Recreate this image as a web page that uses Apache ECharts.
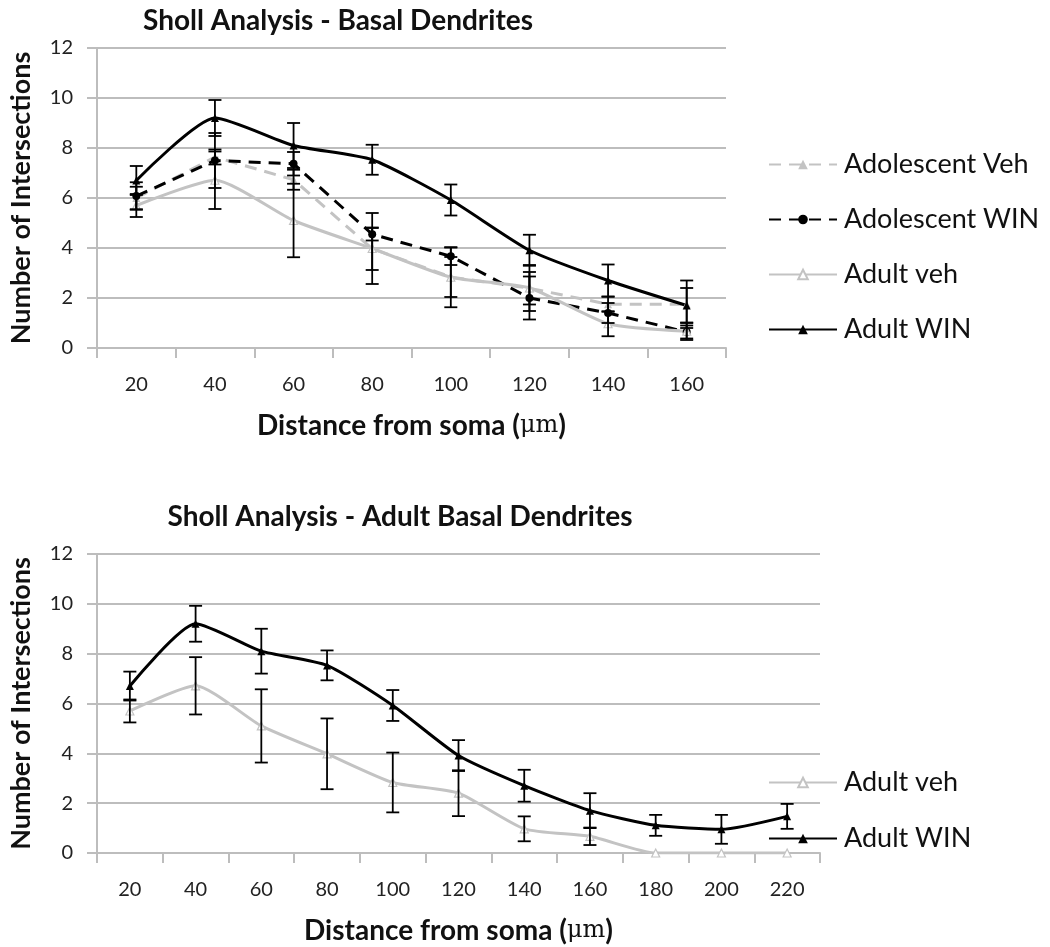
<!DOCTYPE html>
<html>
<head>
<meta charset="utf-8">
<script src="https://cdn.jsdelivr.net/npm/echarts@6/dist/echarts.min.js"></script>
<style>html,body{margin:0;padding:0;background:#fff}#c{width:1050px;height:947px}</style>
</head>
<body>
<div id="c"></div>
<script>
// ---- data ----
const distTop = ['20','40','60','80','100','120','140','160'];
const distBottom = ['20','40','60','80','100','120','140','160','180','200','220'];
const yTicks = [0, 12, 2]; // min, max, interval

const adolVeh    = [6.0, 7.64, 6.73, 3.97, 2.84, 2.39, 1.75, 1.75];
const adolVehErr = [0.45, 0.3, 0.4, 0.85, 0.8, 0.65, 0.3, 0.95];
const adolWin    = [6.08, 7.5, 7.37, 4.55, 3.67, 2.0, 1.4, 0.64];
const adolWinErr = [0.55, 1.1, 0.47, 0.25, 0.35, 0.86, 0.4, 0.26];
const adultVeh    = [5.7, 6.71, 5.1, 3.98, 2.83, 2.4, 0.97, 0.67, 0, 0, 0];
const adultVehErr = [0.46, 1.15, 1.47, 1.42, 1.2, 0.92, 0.5, 0.35, 0, 0, 0];
const adultWin    = [6.7, 9.2, 8.1, 7.53, 5.92, 3.91, 2.7, 1.7, 1.11, 0.95, 1.47];
const adultWinErr = [0.58, 0.72, 0.9, 0.6, 0.62, 0.62, 0.64, 0.7, 0.42, 0.58, 0.5];

const FONT = 'Lato';
const GRID_C = '#bdbdbd';
const LIGHT = '#c3c3c3';

function errData(vals, errs, n) {
  const out = [];
  for (let i = 0; i < n; i++) out.push([i, vals[i] - errs[i], vals[i] + errs[i]]);
  return out;
}
function errSeries(vals, errs, n, gi) {
  return {
    type: 'custom', xAxisIndex: gi, yAxisIndex: gi, z: 10, silent: true,
    encode: { x: 0, y: [1, 2] },
    data: errData(vals, errs, n),
    renderItem: function (params, api) {
      const lo = api.value(1), hi = api.value(2);
      if (hi - lo <= 0) return;
      const p1 = api.coord([api.value(0), lo]);
      const p2 = api.coord([api.value(0), hi]);
      const w = 6.5;
      const st = { stroke: '#000', lineWidth: 1.8, fill: null };
      return { type: 'group', children: [
        { type: 'line', shape: { x1: p1[0], y1: p1[1], x2: p2[0], y2: p2[1] }, style: st },
        { type: 'line', shape: { x1: p1[0]-w, y1: p1[1], x2: p1[0]+w, y2: p1[1] }, style: st },
        { type: 'line', shape: { x1: p2[0]-w, y1: p2[1], x2: p2[0]+w, y2: p2[1] }, style: st }
      ]};
    }
  };
}

const S = {
  adolVeh: { color: LIGHT, type: [12, 8], symbol: 'triangle', size: 8, fill: LIGHT },
  adolWin: { color: '#000', type: [12, 8], symbol: 'circle', size: 8, fill: '#000' },
  adultVeh: { color: LIGHT, type: 'solid', symbol: 'triangle', size: 8, fill: '#fff' },
  adultWin: { color: '#000', type: 'solid', symbol: 'triangle', size: 8, fill: '#000' }
};
function lineSeries(name, vals, n, gi, st) {
  return {
    type: 'line', name: name, xAxisIndex: gi, yAxisIndex: gi, z: 3,
    data: vals.slice(0, n), smooth: st.type === 'solid' ? 0.2 : 0,
    symbol: st.symbol, symbolSize: st.size, showSymbol: true,
    lineStyle: { color: st.color, width: 3, type: st.type },
    itemStyle: { color: st.fill, borderColor: st.color, borderWidth: st.fill === '#fff' ? 1.2 : 0 },
    color: st.color
  };
}

function xAxis(gi, cats, nameTxt) {
  return {
    type: 'category', gridIndex: gi, data: cats, boundaryGap: true,
    axisLine: { lineStyle: { color: GRID_C, width: 2 } },
    axisTick: { show: true, length: 10, lineStyle: { color: GRID_C, width: 2 } },
    axisLabel: { color: '#222', fontFamily: FONT, fontSize: 20, margin: 27 },
    name: nameTxt, nameLocation: 'middle', nameGap: 64,
    nameTextStyle: {
      fontFamily: FONT, fontWeight: 'bold', fontSize: 28, color: '#111',
      rich: { mu: { fontFamily: 'DejaVu Serif', fontWeight: 'normal', fontSize: 24, color: '#111', textStrokeColor: '#111', textStrokeWidth: 0.7 } }
    }
  };
}
function yAxis(gi) {
  return {
    type: 'value', gridIndex: gi, min: yTicks[0], max: yTicks[1], interval: yTicks[2],
    axisLine: { show: true, lineStyle: { color: GRID_C, width: 2 } },
    axisTick: { show: true, length: 10, lineStyle: { color: GRID_C, width: 2 } },
    splitLine: { lineStyle: { color: GRID_C, width: 2 } },
    axisLabel: { color: '#222', fontFamily: FONT, fontSize: 20, margin: 24 },
    name: 'Number of Intersections', nameLocation: 'middle', nameGap: 62, nameRotate: 90,
    nameTextStyle: { fontFamily: FONT, fontWeight: 'bold', fontSize: 27, color: '#111' }
  };
}

const nTop = distTop.length, nBot = distBottom.length;
const xName = 'Distance from soma ({mu|μm})';

const option = {
  animation: false,
  backgroundColor: '#fff',
  title: [
    { text: 'Sholl Analysis - Basal Dendrites', left: 333, top: 2, textAlign: 'center',
      textStyle: { fontFamily: FONT, fontWeight: 'bold', fontSize: 28, color: '#111' } },
    { text: 'Sholl Analysis - Adult Basal Dendrites', left: 395, top: 498, textAlign: 'center',
      textStyle: { fontFamily: FONT, fontWeight: 'bold', fontSize: 28, color: '#111' } }
  ],
  grid: [
    { left: 95, top: 48, width: 631, height: 300 },
    { left: 95, top: 554, width: 725, height: 299 }
  ],
  xAxis: [ xAxis(0, distTop, xName), xAxis(1, distBottom, xName) ],
  yAxis: [ yAxis(0), yAxis(1) ],
  legend: [
    { orient: 'vertical', left: 763, top: 146, itemWidth: 68, itemHeight: 12, itemGap: 28,
      data: ['Adolescent Veh', 'Adolescent WIN', 'Adult veh', 'Adult WIN'],
      textStyle: { fontFamily: FONT, fontSize: 27, color: '#111', lineHeight: 24, padding: [0,0,0,2] } },
    { orient: 'vertical', left: 763, top: 764, itemWidth: 68, itemHeight: 12, itemGap: 29,
      data: ['Adult veh', 'Adult WIN'],
      textStyle: { fontFamily: FONT, fontSize: 27, color: '#111', lineHeight: 24, padding: [0,0,0,2] } }
  ],
  series: [
    lineSeries('Adolescent Veh', adolVeh, nTop, 0, S.adolVeh),
    lineSeries('Adolescent WIN', adolWin, nTop, 0, S.adolWin),
    lineSeries('Adult veh', adultVeh, nTop, 0, S.adultVeh),
    lineSeries('Adult WIN', adultWin, nTop, 0, S.adultWin),
    errSeries(adolVeh, adolVehErr, nTop, 0),
    errSeries(adolWin, adolWinErr, nTop, 0),
    errSeries(adultVeh, adultVehErr, nTop, 0),
    errSeries(adultWin, adultWinErr, nTop, 0),
    lineSeries('Adult veh', adultVeh, nBot, 1, S.adultVeh),
    lineSeries('Adult WIN', adultWin, nBot, 1, S.adultWin),
    errSeries(adultVeh, adultVehErr, nBot, 1),
    errSeries(adultWin, adultWinErr, nBot, 1)
  ]
};
const chart = echarts.init(document.getElementById('c'), null, { renderer: 'canvas' });
chart.setOption(option);
</script>
</body>
</html>
